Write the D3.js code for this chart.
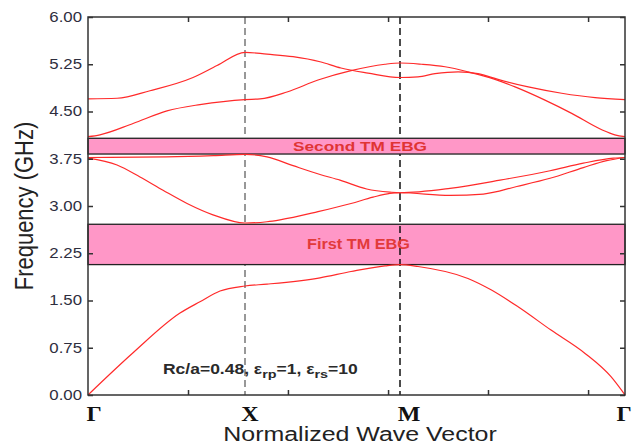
<!DOCTYPE html>
<html>
<head>
<meta charset="utf-8">
<script src="https://cdn.jsdelivr.net/npm/d3@7"></script>
<style>
  html, body { margin: 0; padding: 0; background: #fff; }
  svg { display: block; }
</style>
</head>
<body>
<svg id="chart" width="638" height="447"></svg>
<script>
// ---------- data ----------
const symLabels = ["Γ", "X", "M", "Γ"];
const symPos = [0, 1, 2, 3.414];
const yTicks = [0, 0.75, 1.5, 2.25, 3.0, 3.75, 4.5, 5.25, 6.0];
const xMinorTicks = [0.637, 1.277, 1.923, 2.553, 3.182];

const gaps = [
  { name: "First TM EBG", lo: 2.07, hi: 2.71 },
  { name: "Second TM EBG", lo: 3.825, hi: 4.075 }
];

const band1K = [0, 0.287, 0.586, 0.713, 0.841, 1, 1.142, 1.484, 1.684, 1.903, 2, 2.113, 2.427, 2.572, 2.742, 2.949, 3.163, 3.326, 3.414];
const band1F = [0, 0.67, 1.30, 1.48, 1.65, 1.73, 1.76, 1.86, 1.96, 2.05, 2.07, 2.04, 1.85, 1.67, 1.40, 1.03, 0.66, 0.29, 0];

const band2K = [0, 0.185, 0.331, 0.478, 0.631, 0.796, 1, 1.142, 1.226, 1.471, 1.684, 1.826, 1.935, 2, 2.314, 2.524, 2.734, 2.943, 3.152, 3.299, 3.414];
const band2F = [3.76, 3.65, 3.46, 3.25, 3.04, 2.86, 2.73, 2.75, 2.78, 2.91, 3.04, 3.14, 3.20, 3.21, 3.17, 3.19, 3.31, 3.44, 3.61, 3.72, 3.77];

const band3K = [0, 0.5, 0.8, 1, 1.142, 1.31, 1.484, 1.613, 1.785, 1.935, 2, 2.314, 2.629, 2.943, 3.152, 3.341, 3.414];
const band3F = [3.77, 3.78, 3.80, 3.82, 3.78, 3.64, 3.50, 3.41, 3.27, 3.22, 3.21, 3.28, 3.41, 3.56, 3.68, 3.76, 3.77];

const band4K = [0, 0.076, 0.287, 0.503, 0.713, 1, 1.097, 1.271, 1.471, 1.684, 1.903, 2, 2.136, 2.283, 2.427, 2.597, 2.723, 2.911, 3.079, 3.268, 3.35, 3.414];
const band4F = [4.10, 4.13, 4.31, 4.51, 4.61, 4.69, 4.70, 4.81, 5.00, 5.15, 5.25, 5.27, 5.25, 5.21, 5.13, 5.01, 4.89, 4.68, 4.47, 4.21, 4.13, 4.10];

const band5K = [0, 0.185, 0.395, 0.669, 0.822, 1, 1.142, 1.31, 1.484, 1.619, 1.794, 2, 2.113, 2.22, 2.365, 2.49, 2.616, 2.806, 3.016, 3.226, 3.414];
const band5F = [4.70, 4.71, 4.83, 5.04, 5.23, 5.44, 5.41, 5.37, 5.29, 5.19, 5.11, 5.04, 5.05, 5.10, 5.13, 5.10, 5.01, 4.89, 4.79, 4.72, 4.69];

const bands = [
  [band1K, band1F], [band2K, band2F], [band3K, band3F], [band4K, band4F], [band5K, band5F]
];

// ---------- layout ----------
const L = 88, R = 625, T = 17, B = 395;
const SX = 1.2; // horizontal stretch of the original picture's text

const svg = d3.select("#chart");
const x = d3.scaleLinear().domain([0, 1, 2, 3.414]).range([L, 245, 400, R]);
const y = d3.scaleLinear().domain([0, 6]).range([B, T]);

const axisColor = "#333";
const labelColor = "#2e2e3e";

function stext(g, px, py, str, o) {
  return g.append("text")
    .attr("transform", `translate(${px},${py}) scale(${o.sx || SX},1)`)
    .attr("text-anchor", o.anchor || "middle")
    .attr("font-family", o.family || "'Liberation Sans', Arial, sans-serif")
    .attr("font-size", o.size)
    .attr("font-weight", o.weight || "normal")
    .attr("fill", o.fill || labelColor)
    .text(str);
}

// dashed line at X (below bands)
svg.append("line")
  .attr("x1", x(symPos[1])).attr("x2", x(symPos[1]))
  .attr("y1", T).attr("y2", B)
  .attr("stroke", "#777").attr("stroke-width", 1.5)
  .attr("stroke-dasharray", "7,4");

function drawGap(gp) {
  svg.append("rect")
    .attr("x", L).attr("width", R - L)
    .attr("y", y(gp.hi)).attr("height", y(gp.lo) - y(gp.hi))
    .attr("fill", "#ff97c7")
    .attr("stroke", "#222").attr("stroke-width", 1.3);
}
drawGap(gaps[0]);
// dashed line at M
svg.append("line")
  .attr("x1", x(symPos[2])).attr("x2", x(symPos[2]))
  .attr("y1", T).attr("y2", B)
  .attr("stroke", "#111").attr("stroke-width", 1.5)
  .attr("stroke-dasharray", "7,4");
drawGap(gaps[1]);

// band curves
const line = d3.line()
  .x(d => x(d[0])).y(d => y(d[1]))
  .curve(d3.curveMonotoneX);
bands.forEach(([ks, fs]) => {
  svg.append("path")
    .attr("d", line(ks.map((k, i) => [k, fs[i]])))
    .attr("fill", "none")
    .attr("stroke", "#ff2a2a")
    .attr("stroke-width", 1.2);
});

// gap labels
svg.append("text")
  .attr("x", 360).attr("y", (y(gaps[1].lo) + y(gaps[1].hi)) / 2)
  .attr("dy", "0.36em")
  .attr("text-anchor", "middle")
  .attr("font-family", "'Liberation Sans', Arial, sans-serif")
  .attr("font-size", 13).attr("font-weight", "bold")
  .attr("fill", "#e03434")
  .attr("textLength", 134).attr("lengthAdjust", "spacingAndGlyphs")
  .text(gaps[1].name);

svg.append("text")
  .attr("x", 358.5).attr("y", 243.5)
  .attr("dy", "0.36em")
  .attr("text-anchor", "middle")
  .attr("font-family", "'Liberation Sans', Arial, sans-serif")
  .attr("font-size", 14).attr("font-weight", "bold")
  .attr("fill", "#e23a3a")
  .attr("textLength", 103).attr("lengthAdjust", "spacingAndGlyphs")
  .text(gaps[0].name);

// frame
svg.append("rect")
  .attr("x", L).attr("y", T).attr("width", R - L).attr("height", B - T)
  .attr("fill", "none").attr("stroke", axisColor).attr("stroke-width", 1.5);

// axes (inward ticks)
const gl = svg.append("g").attr("transform", `translate(${L},0)`)
  .call(d3.axisLeft(y).tickValues(yTicks).tickSizeInner(-5).tickSizeOuter(0).tickPadding(5).tickFormat(d3.format(".2f")));
gl.select(".domain").remove();
gl.selectAll("line").attr("stroke", axisColor).attr("stroke-width", 1.5);
gl.selectAll("text")
  .attr("font-family", "'Liberation Sans', Arial, sans-serif")
  .attr("font-size", 14).attr("fill", labelColor)
  .attr("transform", `scale(${SX},1)`);

const gr = svg.append("g").attr("transform", `translate(${R},0)`)
  .call(d3.axisRight(y).tickValues(yTicks).tickSizeInner(-5).tickSizeOuter(0).tickFormat(""));
gr.select(".domain").remove();
gr.selectAll("line").attr("stroke", axisColor).attr("stroke-width", 1.5);

const gb = svg.append("g").attr("transform", `translate(0,${B})`)
  .call(d3.axisBottom(x).tickValues(xMinorTicks).tickSizeInner(-5).tickSizeOuter(0).tickFormat(""));
gb.select(".domain").remove();
gb.selectAll("line").attr("stroke", axisColor).attr("stroke-width", 1.5);

const gt = svg.append("g").attr("transform", `translate(0,${T})`)
  .call(d3.axisTop(x).tickValues(xMinorTicks).tickSizeInner(-5).tickSizeOuter(0).tickFormat(""));
gt.select(".domain").remove();
gt.selectAll("line").attr("stroke", axisColor).attr("stroke-width", 1.5);

// symmetry point labels
const symShift = [6, 5, 9, -1];
symLabels.forEach((s, i) => {
  stext(svg, x(symPos[i]) + symShift[i], 421, s, {
    size: 20, weight: "bold", family: "'Liberation Serif', 'Times New Roman', serif", fill: "#111"
  });
});

// axis titles
stext(svg, 360, 441, "Normalized Wave Vector", { size: 19.5, sx: 1.28, fill: "#222" });
svg.append("text")
  .attr("transform", `translate(33,206) scale(1.2,1) rotate(-90)`)
  .attr("text-anchor", "middle")
  .attr("font-family", "'Liberation Sans', Arial, sans-serif")
  .attr("font-size", 22).attr("fill", "#222")
  .text("Frequency (GHz)");

// annotation
const ann = svg.append("text")
  .attr("transform", `translate(163,374) scale(1.25,1)`)
  .attr("font-family", "'Liberation Sans', Arial, sans-serif")
  .attr("font-size", 14).attr("font-weight", "bold")
  .attr("fill", "#2a2a2a");
ann.append("tspan").text("Rc/a=0.48, ε");
ann.append("tspan").attr("dy", 4).attr("font-size", 11.5).text("rp");
ann.append("tspan").attr("dy", -4).text("=1, ε");
ann.append("tspan").attr("dy", 4).attr("font-size", 11.5).text("rs");
ann.append("tspan").attr("dy", -4).text("=10");
</script>
</body>
</html>
